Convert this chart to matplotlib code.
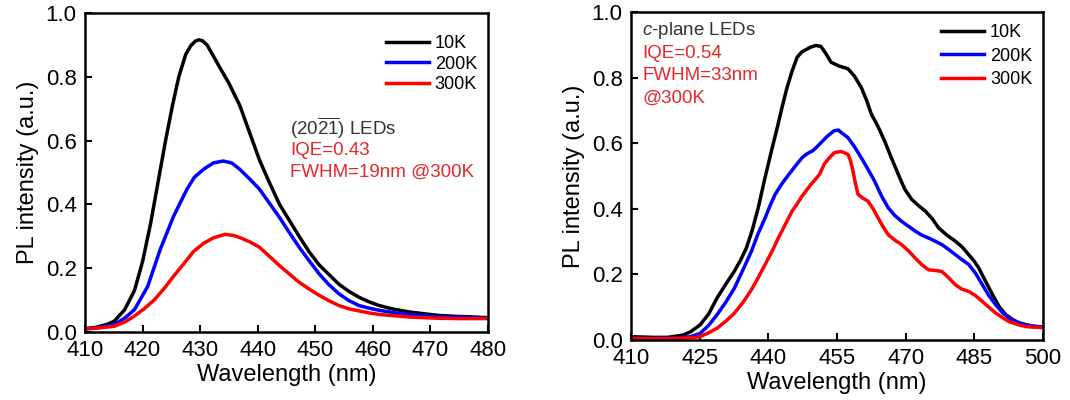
import matplotlib
matplotlib.use("Agg")
import matplotlib.pyplot as plt

plt.rcParams['font.family'] = ['Liberation Sans', 'DejaVu Sans']
plt.rcParams['mathtext.fontset'] = 'custom'
plt.rcParams['mathtext.rm'] = 'Liberation Sans'
plt.rcParams['mathtext.it'] = 'Liberation Sans:italic'

# ---------------- (20-2-1) LEDs ----------------
wl_a10 = [410, 412, 414, 415.1, 416.9, 418.6, 420, 421.4, 422, 423, 424, 425.2, 426.3,
          427.5, 428.4, 429.2, 429.8, 430.4, 431.2, 432, 433.4, 435, 436.9, 438.5, 440.3,
          442, 443.8, 445.5, 447.2, 449, 450.7, 452.4, 454.1, 455.8, 457.6, 459.3, 461.1,
          463.5, 466.3, 469, 471.4, 474.5, 477.5, 480]
a_10k = [0.01, 0.015, 0.025, 0.034, 0.07, 0.13, 0.22, 0.34, 0.40, 0.50, 0.60, 0.71, 0.80,
         0.87, 0.898, 0.912, 0.916, 0.913, 0.9, 0.875, 0.83, 0.78, 0.71, 0.63, 0.54,
         0.47, 0.40, 0.35, 0.30, 0.25, 0.21, 0.18, 0.15, 0.128, 0.109, 0.095, 0.083,
         0.072, 0.063, 0.057, 0.052, 0.049, 0.047, 0.045]

wl_a200 = [410, 412, 415.1, 417, 418.6, 420.9, 423.1, 425.4, 427.7, 429, 430.6, 432.3,
           434, 435.5, 436.9, 438.6, 440.3, 442, 443.8, 445.5, 447.2, 449, 450.7, 452.4,
           454.1, 455.8, 457.6, 459.3, 461.1, 463.5, 466.3, 469, 471.4, 475, 480]
a_200k = [0.01, 0.013, 0.023, 0.045, 0.07, 0.143, 0.26, 0.363, 0.447, 0.485, 0.51, 0.53,
          0.536, 0.53, 0.51, 0.48, 0.448, 0.405, 0.359, 0.312, 0.266, 0.222, 0.182, 0.148,
          0.12, 0.099, 0.083, 0.075, 0.068, 0.061, 0.055, 0.051, 0.047, 0.046, 0.044]

wl_a300 = [410, 412, 415.1, 417, 418.6, 420.3, 422, 423.7, 425.4, 427.2, 428.9, 430.6,
           432.3, 434.3, 435.8, 436.9, 438.6, 440.3, 442, 443.8, 445.5, 447.2, 449,
           450.7, 452.4, 454.1, 455.8, 457.6, 459.3, 461.1, 466.3, 471.4, 475, 480]
a_300k = [0.01, 0.012, 0.018, 0.032, 0.05, 0.073, 0.10, 0.135, 0.175, 0.215, 0.253, 0.278,
          0.295, 0.306, 0.303, 0.296, 0.283, 0.266, 0.238, 0.208, 0.182, 0.156, 0.134,
          0.115, 0.098, 0.083, 0.073, 0.066, 0.06, 0.055, 0.047, 0.043, 0.042, 0.042]

# ---------------- c-plane LEDs ----------------
wl_c10 = [410, 415, 418, 421.4, 423, 425.1, 427, 428.8, 430.7, 432.6, 434, 435.2, 436.5,
          437.8, 439.2, 440.7, 442, 443, 444, 445.2, 446.3, 447.3, 448.2, 449.3, 450.4,
          451.5, 452.5, 453.7, 455.5, 457.4, 458.8, 460.3, 461.5, 462.5, 464, 465.4,
          466.9, 468.4, 469.8, 471.3, 472.8, 474.3, 475.8, 477.2, 479, 480.9, 482.4,
          483.8, 485, 486, 487.5, 489, 490.5, 491.9, 493.4, 494.9, 496.5, 498.2, 500]
c_10k = [0.01, 0.008, 0.008, 0.015, 0.025, 0.046, 0.08, 0.128, 0.17, 0.21, 0.245, 0.28,
         0.335, 0.403, 0.49, 0.577, 0.65, 0.709, 0.765, 0.82, 0.862, 0.878, 0.885, 0.893,
         0.898, 0.895, 0.875, 0.847, 0.835, 0.827, 0.805, 0.77, 0.73, 0.689, 0.65, 0.607,
         0.555, 0.505, 0.46, 0.429, 0.41, 0.393, 0.37, 0.342, 0.32, 0.301, 0.283, 0.26,
         0.24, 0.219, 0.178, 0.138, 0.10, 0.077, 0.062, 0.051, 0.046, 0.041, 0.04]

wl_c200 = [410, 415, 420, 423, 425.1, 427, 428.8, 430.7, 432.6, 434.5, 436.3, 437.8, 439.3,
           440.4, 441.5, 443, 444.5, 446, 447.4, 448.5, 449.7, 450.5, 451.2, 452.8, 454.4,
           455.3, 456, 457.4, 458.8, 460.3, 461.8, 463.2, 464.7, 466.2, 467.6, 469.1,
           470.6, 472.1, 473.5, 475, 476.5, 477.9, 479.4, 480.9, 482.3, 483.8, 485.3,
           486.8, 488.2, 489.7, 491.2, 492.6, 494.5, 496.3, 498, 500]
c_200k = [0.005, 0.005, 0.006, 0.01, 0.02, 0.045, 0.077, 0.115, 0.158, 0.215, 0.27, 0.325,
          0.372, 0.41, 0.444, 0.477, 0.505, 0.532, 0.556, 0.568, 0.577, 0.587, 0.597, 0.62,
          0.638, 0.64, 0.632, 0.617, 0.59, 0.556, 0.52, 0.485, 0.44, 0.403, 0.38, 0.362,
          0.347, 0.332, 0.32, 0.311, 0.301, 0.291, 0.276, 0.26, 0.245, 0.23, 0.203, 0.168,
          0.135, 0.107, 0.083, 0.066, 0.054, 0.046, 0.042, 0.04]

wl_c300 = [410, 415, 420, 423, 425.1, 427, 428.8, 430.7, 432.6, 434.5, 436.3, 437.8, 439.3,
           440.8, 442.2, 443.7, 445.2, 446.3, 447.3, 448.2, 449.3, 450.3, 451.2, 452.2,
           453.3, 454.4, 455.9, 457.4, 458, 458.5, 459, 459.6, 460.7, 461.8, 462.9, 464,
           465.1, 466.2, 467.6, 469.1, 470.6, 472.1, 473.5, 475, 476.5, 477.9, 479.4,
           480.9, 482.3, 483.8, 485.3, 486.8, 488.2, 489.7, 491.2, 492.6, 494.5, 496.3,
           498, 500]
c_300k = [0.005, 0.004, 0.005, 0.007, 0.01, 0.022, 0.036, 0.057, 0.082, 0.115, 0.153, 0.19,
          0.23, 0.27, 0.311, 0.352, 0.393, 0.415, 0.437, 0.454, 0.474, 0.49, 0.505, 0.536,
          0.555, 0.571, 0.575, 0.566, 0.545, 0.515, 0.48, 0.444, 0.432, 0.423, 0.40, 0.372,
          0.345, 0.321, 0.305, 0.291, 0.272, 0.25, 0.23, 0.214, 0.212, 0.209, 0.19, 0.168,
          0.155, 0.148, 0.135, 0.117, 0.10, 0.082, 0.068, 0.056, 0.047, 0.041, 0.039, 0.038]

labels = ["10K", "200K", "300K"]
colors = ["black", "#0000ff", "#ff0000"]
note_red = "#e8252a"

fig = plt.figure(figsize=(10.7, 4), dpi=100)
ax1 = fig.add_axes([0.0794, 0.17, 0.3766, 0.7975])
ax2 = fig.add_axes([0.5897, 0.15, 0.385, 0.82])

ax1.plot(wl_a10, a_10k, color=colors[0], lw=2.5, label=labels[0])
ax1.plot(wl_a200, a_200k, color=colors[1], lw=2.5, label=labels[1])
ax1.plot(wl_a300, a_300k, color=colors[2], lw=2.5, label=labels[2])
ax1.set_xlim(410, 480)
ax1.set_xticks(range(410, 481, 10))

ax2.plot(wl_c10, c_10k, color=colors[0], lw=2.5, label=labels[0])
ax2.plot(wl_c200, c_200k, color=colors[1], lw=2.5, label=labels[1])
ax2.plot(wl_c300, c_300k, color=colors[2], lw=2.5, label=labels[2])
ax2.set_xlim(410, 500)
ax2.set_xticks(range(410, 501, 15))

for ax in (ax1, ax2):
    ax.set_ylim(0, 1.0)
    ax.set_yticks([0.0, 0.2, 0.4, 0.6, 0.8, 1.0])
    ax.set_yticklabels(["0.0", "0.2", "0.4", "0.6", "0.8", "1.0"])
    ax.tick_params(direction='in', length=5, width=1.5, labelsize=16)
    ax.tick_params(axis='x', pad=6)
    ax.tick_params(axis='y', pad=6)
    for s in ax.spines.values():
        s.set_linewidth(1.8)
    ax.set_xlabel("Wavelength (nm)", fontsize=17, labelpad=2)
    ax.set_ylabel("PL intensity (a.u.)", fontsize=17, labelpad=5)

ax1.legend(loc='upper right', bbox_to_anchor=(1.0, 0.965), frameon=False, fontsize=13,
           handlelength=2.4, handletextpad=0.3, labelspacing=0.2, borderaxespad=0.2)
ax2.legend(loc='upper right', bbox_to_anchor=(1.0, 0.995), frameon=False, fontsize=13,
           handlelength=2.4, handletextpad=0.3, labelspacing=0.35, borderaxespad=0.2)

ax1.text(0.509, 0.64, r"(20$\overline{2}\overline{1}$) LEDs", transform=ax1.transAxes,
         fontsize=13.5, color="#333333", va='center')
ax1.text(0.509, 0.57, "IQE=0.43", transform=ax1.transAxes, fontsize=13.5,
         color=note_red, va='center')
ax1.text(0.509, 0.50, "FWHM=19nm @300K", transform=ax1.transAxes, fontsize=13.5,
         color=note_red, va='center')

ax2.text(0.027, 0.945, r"$c$-plane LEDs", transform=ax2.transAxes, fontsize=13.5,
         color="#333333", va='center')
ax2.text(0.027, 0.875, "IQE=0.54", transform=ax2.transAxes, fontsize=13.5,
         color=note_red, va='center')
ax2.text(0.027, 0.805, "FWHM=33nm", transform=ax2.transAxes, fontsize=13.5,
         color=note_red, va='center')
ax2.text(0.027, 0.738, "@300K", transform=ax2.transAxes, fontsize=13.5,
         color=note_red, va='center')

fig.savefig("out.png", dpi=100)
